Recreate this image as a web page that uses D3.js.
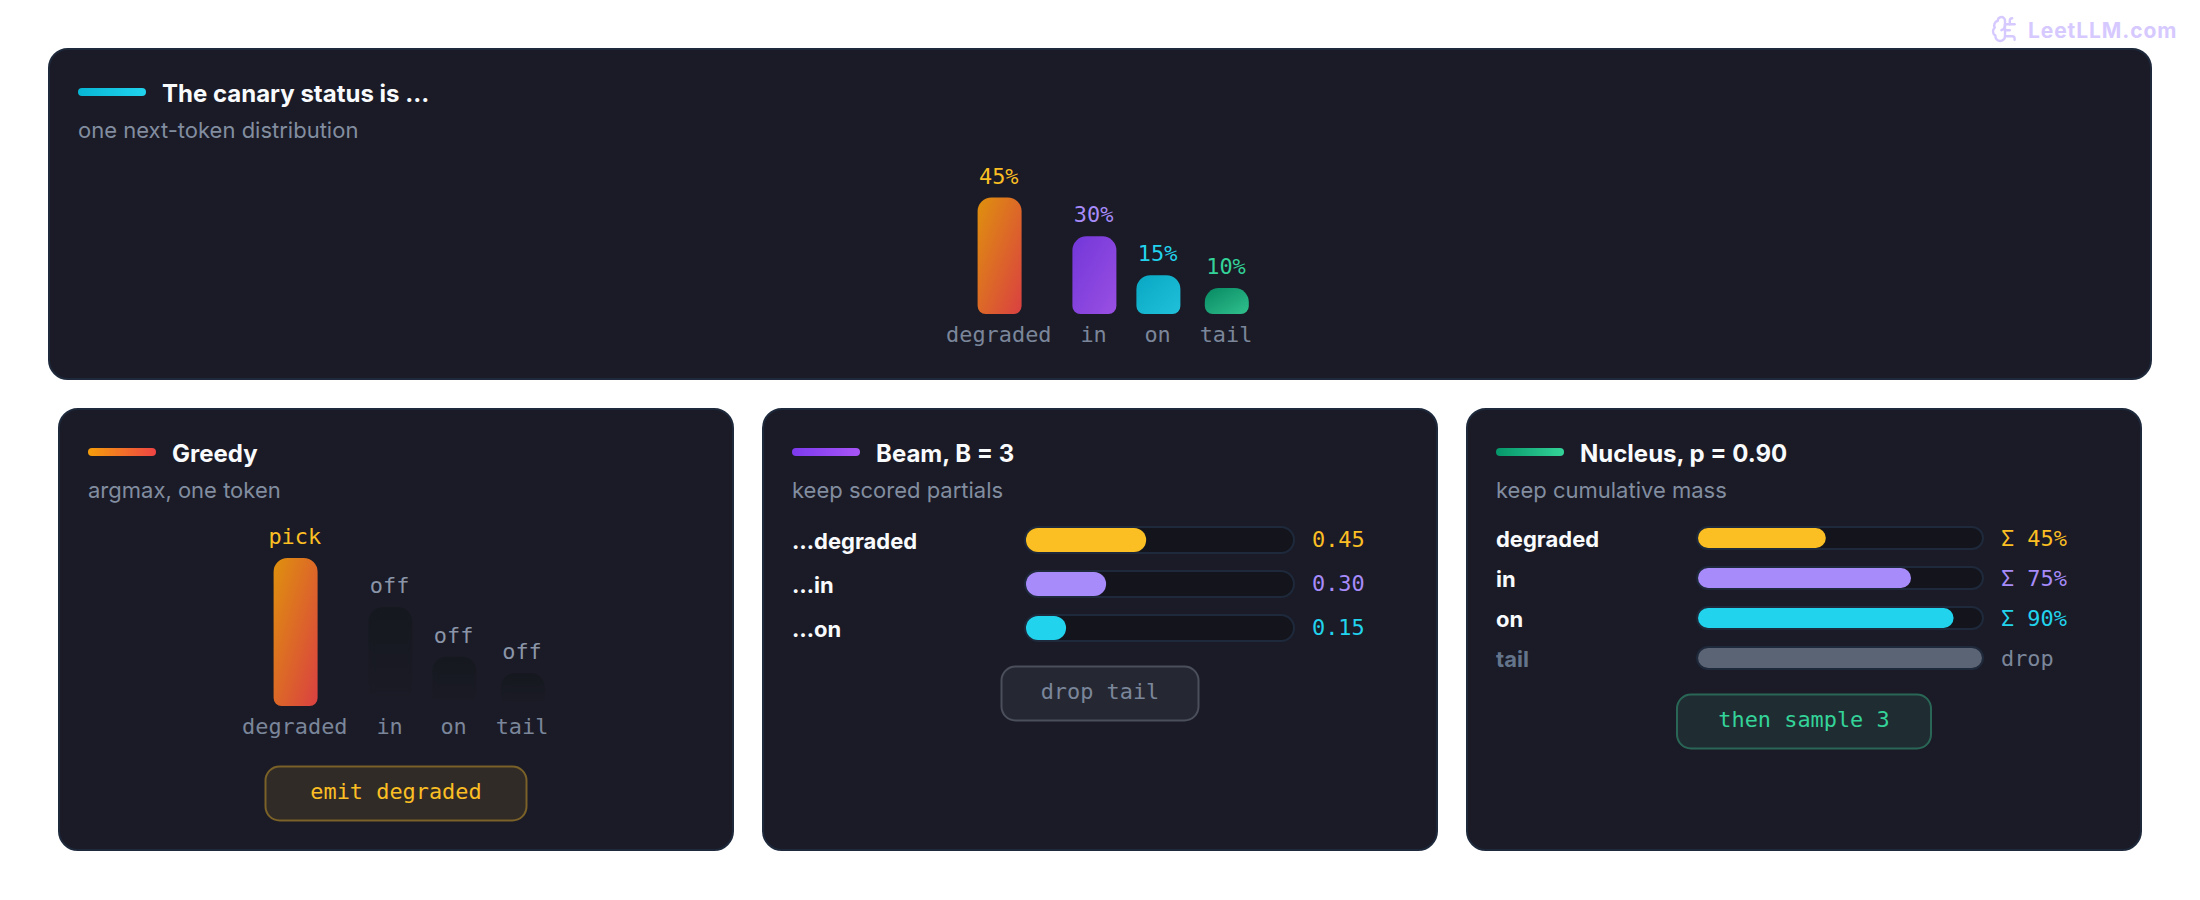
<!DOCTYPE html>
<html>
<head>
<meta charset="utf-8">
<script src="https://cdn.jsdelivr.net/npm/d3@7"></script>
<style>
  html, body { margin: 0; background: #fff; }
  text { font-family: Inter, sans-serif; }
  .mono { font-family: "DejaVu Sans Mono", monospace; font-size: 21.9px; }
  .title { font-size: 24px; font-weight: 700; fill: #f8fafc; }
  .sub { font-size: 22px; fill: #828da0; }
  .rowlabel { font-size: 22px; font-weight: 700; fill: #f8fafc; }
</style>
</head>
<body>
<script>
/* DATA */
const categories = ["degraded", "in", "on", "tail"];
const probs = [45, 30, 15, 10];
const probLabels = ["45%", "30%", "15%", "10%"];
const greedyLabels = ["pick", "off", "off", "off"];

const beamTokens = ["…degraded", "…in", "…on"];
const beamScores = [0.45, 0.30, 0.15];
const beamLabels = ["0.45", "0.30", "0.15"];

const nucleusTokens = ["degraded", "in", "on", "tail"];
const nucleusMass = [0.45, 0.75, 0.90, 1.0];
const nucleusLabels = ["Σ 45%", "Σ 75%", "Σ 90%", "drop"];

const palette = ["#fbbf24", "#a78bfa", "#22d3ee", "#34d399"];
const barGradients = [
  ["#f59e0b", "#ef4444"],
  ["#7c3aed", "#a855f7"],
  ["#06b6d4", "#22d3ee"],
  ["#059669", "#34d399"],
];

/* CONSTANTS */
const width = 2200,
  height = 900,
  barWidth = 44,
  columnGap = 20,
  charWidth = 13.2;

const cardBg = "#1a1b26",
  cardLine = "#1e293b",
  mutedText = "#7b869a";

const svg = d3.select("body").append("svg")
  .attr("width", width)
  .attr("height", height)
  .style("display", "block");

const defs = svg.append("defs");

function addGradient(id, stops, vertical) {
  const g = defs.append("linearGradient").attr("id", id)
    .attr("x1", 0).attr("y1", 0)
    .attr("x2", vertical ? 0 : 1).attr("y2", 1);
  stops.forEach((c, i) => g.append("stop").attr("offset", i).attr("stop-color", c));
}
barGradients.forEach((s, i) => addGradient("bar" + i, s));
addGradient("off", ["#16181f", "#1a1b26"], true);

// the little title accent bars run left to right
function addAccent(id, stops) {
  const g = defs.append("linearGradient").attr("id", id);
  stops.forEach((c, i) => g.append("stop").attr("offset", i).attr("stop-color", c));
}
addAccent("acc-cyan", ["#06b6d4", "#22d3ee"]);
addAccent("acc-red", ["#f59e0b", "#ef4444"]);
addAccent("acc-purple", ["#7c3aed", "#a855f7"]);
addAccent("acc-green", ["#059669", "#34d399"]);

/* HELPERS */
// card with accent bar, title and subtitle
function card(x, y, w, h, accent, title, sub) {
  const g = svg.append("g");
  g.append("rect")
    .attr("x", x + 1).attr("y", y + 1)
    .attr("width", w - 2).attr("height", h - 2)
    .attr("rx", 19)
    .attr("fill", cardBg)
    .attr("stroke", cardLine)
    .attr("stroke-width", 2);
  g.append("rect")
    .attr("x", x + 30).attr("y", y + 40)
    .attr("width", 68).attr("height", 8)
    .attr("rx", 4)
    .attr("fill", `url(#${accent})`);
  g.append("text").attr("class", "title")
    .attr("x", x + 114).attr("y", y + 53.5)
    .text(title);
  g.append("text").attr("class", "sub")
    .attr("x", x + 30).attr("y", y + 90)
    .text(sub);
  return g;
}

// bar with rounder top corners than bottom ones
function barPath(x, y, w, h) {
  const rt = 14, rb = 8, p = d3.path();
  p.moveTo(x + rt, y);
  p.lineTo(x + w - rt, y);
  p.arcTo(x + w, y, x + w, y + rt, rt);
  p.lineTo(x + w, y + h - rb);
  p.arcTo(x + w, y + h, x + w - rb, y + h, rb);
  p.lineTo(x + rb, y + h);
  p.arcTo(x, y + h, x, y + h - rb, rb);
  p.lineTo(x, y + rt);
  p.arcTo(x, y, x + rt, y, rt);
  p.closePath();
  return p.toString();
}

// columns are as wide as their label (or the bar), and the group is centered
function columnCenters(labels, cx) {
  const widths = labels.map(l => Math.max(barWidth, l.length * charWidth));
  const total = d3.sum(widths) + columnGap * (widths.length - 1);
  const starts = [0, ...d3.cumsum(widths.map(w => w + columnGap))];
  return widths.map((w, i) => cx - total / 2 + starts[i] + w / 2);
}

function columnChart(g, cx, baseY, maxH, topLabels, topColors, fills) {
  const centers = columnCenters(categories, cx);
  const y = d3.scaleLinear().domain([0, d3.max(probs)]).range([0, maxH]);
  const rows = d3.range(categories.length);

  g.selectAll("path.bar").data(rows).join("path")
    .attr("class", "bar")
    .attr("d", i => barPath(centers[i] - barWidth / 2, baseY - y(probs[i]), barWidth, y(probs[i])))
    .attr("fill", i => fills(i))
    .attr("opacity", i => fills(i) === "url(#off)" ? 1 : 0.9);

  g.selectAll("text.top").data(rows).join("text")
    .attr("class", "top mono")
    .attr("x", i => centers[i] - 0.8)
    .attr("y", i => baseY - y(probs[i]) - 14)
    .attr("text-anchor", "middle")
    .attr("fill", i => topColors[i])
    .text(i => topLabels[i]);

  g.selectAll("text.cat").data(rows).join("text")
    .attr("class", "cat mono")
    .attr("x", i => centers[i] - 0.8)
    .attr("y", baseY + 28)
    .attr("text-anchor", "middle")
    .attr("fill", mutedText)
    .text(i => categories[i]);
}

function pill(g, cx, y, w, label, fill, stroke, color) {
  g.append("rect")
    .attr("x", cx - w / 2 + 1).attr("y", y + 1)
    .attr("width", w - 2).attr("height", 54)
    .attr("rx", 14)
    .attr("fill", fill)
    .attr("stroke", stroke)
    .attr("stroke-width", 2);
  g.append("text").attr("class", "mono")
    .attr("x", cx).attr("y", y + 33)
    .attr("text-anchor", "middle")
    .attr("fill", color)
    .text(label);
}

// rows of horizontal tracks, beam and nucleus share this
function trackRows(g, o) {
  const x = d3.scaleLinear().domain([0, 1]).range([0, o.trackW]);
  const y = d3.scalePoint().domain(d3.range(o.labels.length))
    .range([o.top, o.top + o.step * (o.labels.length - 1)]);
  const rows = d3.range(o.labels.length);

  g.selectAll("rect.track").data(rows).join("rect")
    .attr("class", "track")
    .attr("x", o.left - 1).attr("y", i => y(i) - 1)
    .attr("width", o.trackW + 2).attr("height", o.barH + 2)
    .attr("rx", (o.barH + 2) / 2)
    .attr("fill", "#14151c")
    .attr("stroke", cardLine)
    .attr("stroke-width", 2);

  g.selectAll("rect.fill").data(rows).join("rect")
    .attr("class", "fill")
    .attr("x", o.left).attr("y", i => y(i))
    .attr("width", i => x(o.values[i])).attr("height", o.barH)
    .attr("rx", o.barH / 2)
    .attr("fill", i => o.colors[i]);

  g.selectAll("text.rowlabel").data(rows).join("text")
    .attr("class", "rowlabel")
    .attr("x", o.labelX)
    .attr("y", i => y(i) + o.labelDy)
    .style("fill", i => o.labelColors[i])
    .text(i => o.labels[i]);

  g.selectAll("text.val").data(rows).join("text")
    .attr("class", "val mono")
    .attr("x", o.valueX)
    .attr("y", i => y(i) + o.valueDy)
    .attr("fill", i => o.valueColors[i])
    .text(i => o.valueLabels[i]);
}

/* TOP CARD */
const topCard = card(48, 48, 2104, 332, "acc-cyan", "The canary status is ...", "one next-token distribution");
columnChart(topCard, 1100, 314, 116.5, probLabels, palette, i => `url(#bar${i})`);

/* GREEDY */
const greedy = card(58, 408, 676, 443, "acc-red", "Greedy", "argmax, one token");
columnChart(greedy, 396, 706, 148, greedyLabels,
  ["#fbbf24", "#8b95a8", "#8b95a8", "#8b95a8"],
  i => i === 0 ? "url(#bar0)" : "url(#off)");
pill(greedy, 396, 765.5, 263, "emit degraded", "#312b27", "#7a6128", "#fbbf24");

/* BEAM */
const beam = card(762, 408, 676, 443, "acc-purple", "Beam, B = 3", "keep scored partials");
trackRows(beam, {
  labels: beamTokens,
  values: beamScores,
  valueLabels: beamLabels,
  colors: palette,
  valueColors: palette,
  labelColors: ["#f8fafc", "#f8fafc", "#f8fafc"],
  left: 1026, trackW: 267, top: 528, step: 44, barH: 24,
  labelX: 792, labelDy: 21, valueX: 1312, valueDy: 19,
});
pill(beam, 1100, 665.5, 199, "drop tail", "#252833", "#4b4f5c", mutedText);

/* NUCLEUS */
const nucleus = card(1466, 408, 676, 443, "acc-green", "Nucleus, p = 0.90", "keep cumulative mass");
trackRows(nucleus, {
  labels: nucleusTokens,
  values: nucleusMass,
  valueLabels: nucleusLabels,
  colors: ["#fbbf24", "#a78bfa", "#22d3ee", "#5b6475"],
  valueColors: ["#fbbf24", "#a78bfa", "#22d3ee", mutedText],
  labelColors: ["#f8fafc", "#f8fafc", "#f8fafc", "#64748b"],
  left: 1698, trackW: 284, top: 528, step: 40, barH: 20,
  labelX: 1496, labelDy: 19, valueX: 2001, valueDy: 18,
});
pill(nucleus, 1804, 693.5, 256, "then sample 3", "#1f2d32", "#2a6656", "#34d399");

/* WATERMARK */
const mark = svg.append("g").attr("transform", "translate(1990.6,14.6) scale(1.2)")
  .attr("fill", "none").attr("stroke", "#d6c9ff").attr("stroke-width", 2)
  .attr("stroke-linecap", "round").attr("stroke-linejoin", "round");
[
  "M12 5a3 3 0 1 0-5.997.125 4 4 0 0 0-2.526 5.77 4 4 0 0 0 .556 6.588A4 4 0 1 0 12 18Z",
  "M9 13a4.5 4.5 0 0 0 3-4",
  "M12 13h4",
  "M12 18h6a2 2 0 0 1 2 2v1",
  "M12 8h8",
  "M16 8V5a2 2 0 0 1 2-2",
].forEach(d => mark.append("path").attr("d", d));

svg.append("text")
  .attr("x", 2028).attr("y", 38)
  .attr("font-size", 21).attr("font-weight", 700)
  .attr("letter-spacing", 0.9)
  .attr("fill", "#d6c9ff")
  .text("LeetLLM.com");
</script>
</body>
</html>
